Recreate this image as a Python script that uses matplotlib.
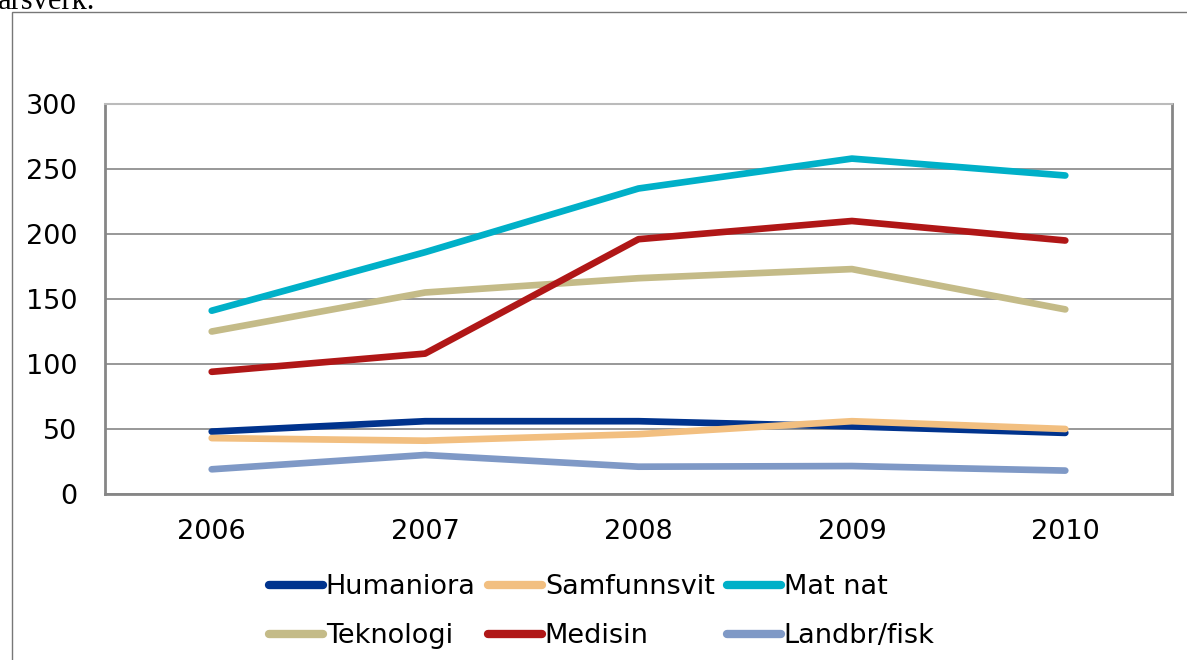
import matplotlib.pyplot as plt
from matplotlib.patches import Rectangle

years = ['2006', '2007', '2008', '2009', '2010']
series_names = ['Humaniora', 'Samfunnsvit', 'Mat nat', 'Teknologi', 'Medisin', 'Landbr/fisk']
humaniora = [48, 56, 56, 52, 47]
samfunnsvit = [43, 41, 46, 56, 50]
mat_nat = [141, 186, 235, 258, 245]
teknologi = [125, 155, 166, 173, 142]
medisin = [94, 108, 196, 210, 195]
landbr_fisk = [19, 30, 21, 21.5, 18]
colors = ['#00338D', '#F2BF80', '#00B0C8', '#C4BB88', '#B01717', '#7F99C6']

plt.rcParams['font.family'] = 'DejaVu Sans'

fig = plt.figure(figsize=(11.87, 6.6), dpi=100)
ax = fig.add_axes([105 / 1187, 1 - 494 / 660, 1067 / 1187, 390 / 660])

x = [i + 0.5 for i in range(len(years))]
data = [humaniora, samfunnsvit, mat_nat, teknologi, medisin, landbr_fisk]
lines = []
for name, vals, c in zip(series_names, data, colors):
    ln, = ax.plot(x, vals, color=c, lw=4.8, solid_capstyle='round',
                  solid_joinstyle='round', label=name)
    lines.append(ln)

ax.set_xlim(0, 5)
ax.set_ylim(0, 300)
ax.set_yticks(range(0, 301, 50))
ax.set_xticks(x)
ax.set_xticklabels(years)
ax.tick_params(axis='both', length=0, labelsize=19.5)
ax.tick_params(axis='x', pad=18)
ax.tick_params(axis='y', pad=20)
ax.yaxis.grid(True, color='#868686', lw=1.2)
ax.set_axisbelow(True)
for side in ['left', 'bottom', 'right']:
    ax.spines[side].set_color('#868686')
    ax.spines[side].set_linewidth(2)
ax.spines['top'].set_color('#BBBBBB')
ax.spines['top'].set_linewidth(1.5)

# legend reads row by row, matplotlib fills columns first
order = [0, 3, 1, 4, 2, 5]
leg = fig.legend([lines[i] for i in order], [series_names[i] for i in order],
                 loc='center', bbox_to_anchor=(0.507, 0.073), ncol=3, frameon=False,
                 fontsize=19.5, handlelength=2.0, handletextpad=0.1,
                 columnspacing=0.45, labelspacing=0.85)
for h in leg.legend_handles:
    h.set_linewidth(6)

# outer frame from the surrounding document
fig.patches.append(Rectangle((12 / 1187, -0.1), 1.2, 1.1 - 12 / 660,
                             transform=fig.transFigure, fill=False,
                             edgecolor='#777777', lw=1))
fig.text(-0.002, 1 - 9 / 660, 'årsverk.', family='Liberation Serif',
         fontsize=22, va='baseline', ha='left')

fig.savefig('out.png', dpi=100)
